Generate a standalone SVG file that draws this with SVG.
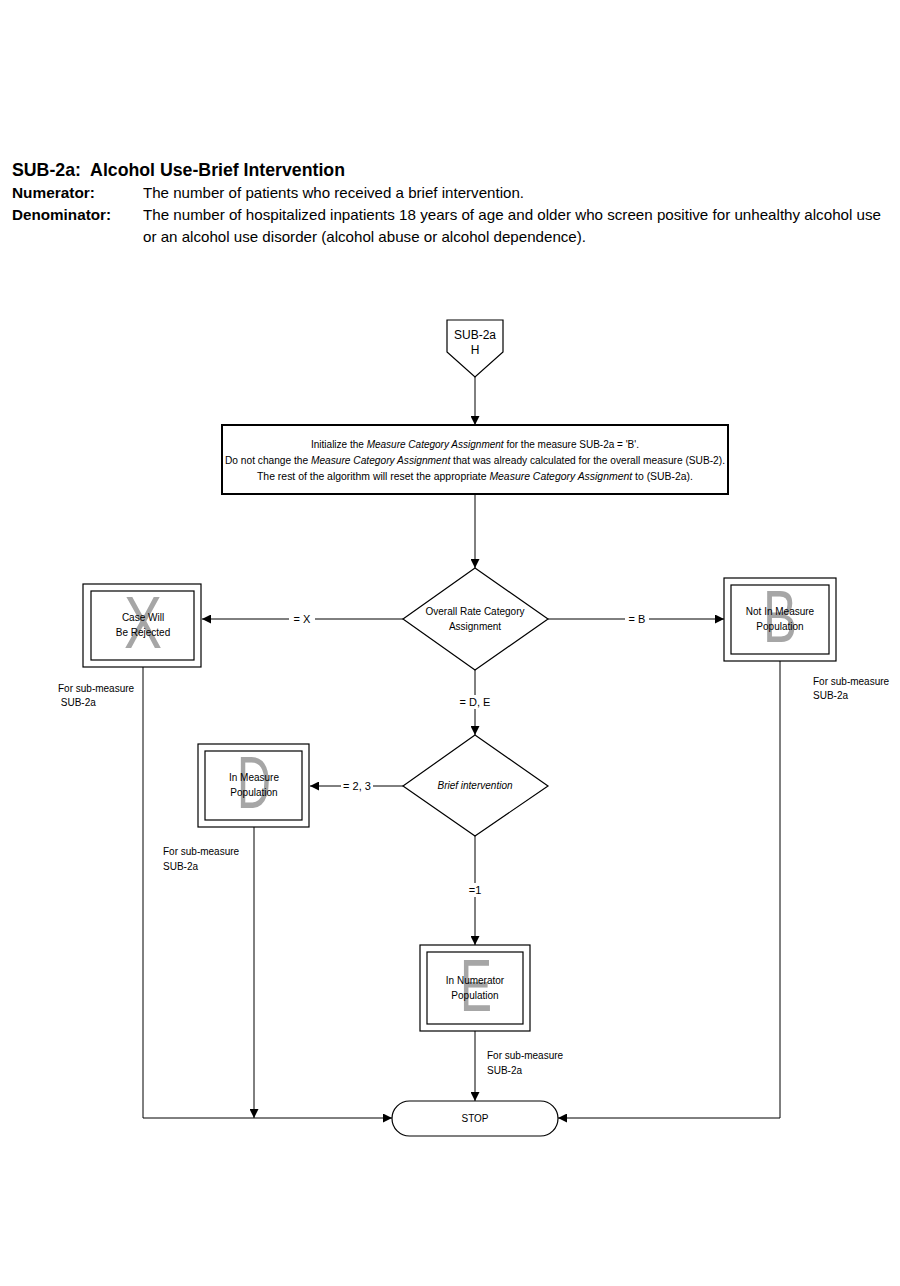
<svg xmlns="http://www.w3.org/2000/svg" width="900" height="1286" viewBox="0 0 900 1286">
<style>
text{font-family:"Liberation Sans",Arial,sans-serif;fill:#000}
.hd{font-size:15px}
.hb{font-size:15px;font-weight:bold}
.s{font-size:10px}
.c{text-anchor:middle}
.big{font-size:74px;fill:#a6a6a6;text-anchor:middle}
.ln{fill:none;stroke:#000;stroke-width:1}
.box{fill:#fff;stroke:#000;stroke-width:1.2}
.lbl{font-size:11px}
</style>
<defs>
<marker id="ah" viewBox="0 0 10 10" refX="10" refY="5" markerWidth="9" markerHeight="9" markerUnits="userSpaceOnUse" orient="auto">
<path d="M0,0 L10,5 L0,10 Z" fill="#000"/>
</marker>
</defs>
<rect width="900" height="1286" fill="#fff"/>
<g id="header">
<text x="12" y="176" style="font-size:19px;font-weight:bold" textLength="333" lengthAdjust="spacingAndGlyphs">SUB-2a:&#160; Alcohol Use-Brief Intervention</text>
<text x="12" y="198" class="hb" textLength="83" lengthAdjust="spacingAndGlyphs">Numerator:</text>
<text x="143" y="198" class="hd" textLength="381" lengthAdjust="spacingAndGlyphs">The number of patients who received a brief intervention.</text>
<text x="12" y="220" class="hb" textLength="99" lengthAdjust="spacingAndGlyphs">Denominator:</text>
<text x="143" y="220" class="hd" textLength="738" lengthAdjust="spacingAndGlyphs">The number of hospitalized inpatients 18 years of age and older who screen positive for unhealthy alcohol use</text>
<text x="143" y="242" class="hd" textLength="443" lengthAdjust="spacingAndGlyphs">or an alcohol use disorder (alcohol abuse or alcohol dependence).</text>
</g>
<g id="connectors">
<line class="ln" x1="475" y1="377" x2="475" y2="425" marker-end="url(#ah)"/>
<line class="ln" x1="475" y1="495" x2="475" y2="568" marker-end="url(#ah)"/>
<line class="ln" x1="403" y1="619" x2="202" y2="619" marker-end="url(#ah)"/>
<line class="ln" x1="548" y1="619" x2="724" y2="619" marker-end="url(#ah)"/>
<line class="ln" x1="475" y1="670" x2="475" y2="735" marker-end="url(#ah)"/>
<line class="ln" x1="403" y1="786" x2="310" y2="786" marker-end="url(#ah)"/>
<line class="ln" x1="475" y1="836" x2="475" y2="945" marker-end="url(#ah)"/>
<line class="ln" x1="475" y1="1031" x2="475" y2="1101" marker-end="url(#ah)"/>
<polyline class="ln" points="143,667 143,1118 392,1118" marker-end="url(#ah)"/>
<line class="ln" x1="254" y1="827" x2="254" y2="1118" marker-end="url(#ah)"/>
<polyline class="ln" points="780,661 780,1118 558,1118" marker-end="url(#ah)"/>
<rect x="289" y="612" width="26" height="14" fill="#fff"/>
<text x="302" y="623" class="lbl c">= X</text>
<rect x="625" y="612" width="24" height="14" fill="#fff"/>
<text x="637" y="623" class="lbl c">= B</text>
<rect x="456" y="695" width="38" height="14" fill="#fff"/>
<text x="475" y="706" class="lbl c">= D, E</text>
<rect x="341" y="779" width="32" height="14" fill="#fff"/>
<text x="357" y="790" class="lbl c">= 2, 3</text>
<rect x="467" y="883" width="16" height="14" fill="#fff"/>
<text x="475" y="894" class="lbl c">=1</text>
</g>
<g id="start">
<polygon class="box" points="447,320 503,320 503,352 475,377 447,352"/>
<text x="475" y="339" class="c" style="font-size:12px">SUB-2a</text>
<text x="475" y="354" class="c" style="font-size:12px">H</text>
</g>
<g id="init">
<rect x="222" y="425" width="506" height="69" fill="#fff" stroke="#000" stroke-width="2"/>
<text x="475" y="448" class="s c" textLength="328" lengthAdjust="spacingAndGlyphs">Initialize the <tspan font-style="italic">Measure Category Assignment</tspan> for the measure SUB-2a = 'B'.</text>
<text x="475" y="464" class="s c" textLength="500" lengthAdjust="spacingAndGlyphs">Do not change the <tspan font-style="italic">Measure Category Assignment</tspan> that was already calculated for the overall measure (SUB-2).</text>
<text x="475" y="480" class="s c" textLength="436" lengthAdjust="spacingAndGlyphs">The rest of the algorithm will reset the appropriate <tspan font-style="italic">Measure Category Assignment</tspan> to (SUB-2a).</text>
</g>
<g id="d1">
<polygon class="box" points="475,568 548,619 475,670 403,619"/>
<text x="475" y="615" class="s c">Overall Rate Category</text>
<text x="475" y="630" class="s c">Assignment</text>
</g>
<g id="rejected">
<rect class="box" x="83" y="584" width="118" height="83"/>
<rect class="box" x="91" y="591" width="103" height="69"/>
<text x="143" y="648" class="big" textLength="38" lengthAdjust="spacingAndGlyphs">X</text>
<text x="143" y="621" class="s c">Case Will</text>
<text x="143" y="636" class="s c">Be Rejected</text>
<text x="58" y="692" class="s">For sub-measure</text>
<text x="58" y="706" class="s">&#160;SUB-2a</text>
</g>
<g id="notin">
<rect class="box" x="724" y="578" width="112" height="83"/>
<rect class="box" x="731" y="585" width="98" height="69"/>
<text x="780" y="642" class="big" textLength="34" lengthAdjust="spacingAndGlyphs">B</text>
<text x="780" y="615" class="s c">Not In Measure</text>
<text x="780" y="630" class="s c">Population</text>
<text x="813" y="685" class="s">For sub-measure</text>
<text x="813" y="699" class="s">SUB-2a</text>
</g>
<g id="d2">
<polygon class="box" points="475,735 548,786 475,836 403,786"/>
<text x="475" y="789" class="s c" font-style="italic">Brief intervention</text>
</g>
<g id="inmeasure">
<rect class="box" x="198" y="744" width="111" height="83"/>
<rect class="box" x="205" y="751" width="97" height="69"/>
<text x="254" y="808" class="big" textLength="34" lengthAdjust="spacingAndGlyphs">D</text>
<text x="254" y="781" class="s c">In Measure</text>
<text x="254" y="796" class="s c">Population</text>
<text x="163" y="855" class="s">For sub-measure</text>
<text x="163" y="870" class="s">SUB-2a</text>
</g>
<g id="numerator">
<rect class="box" x="420" y="945" width="110" height="86"/>
<rect class="box" x="427" y="952" width="96" height="72"/>
<text x="476" y="1011" class="big" textLength="32" lengthAdjust="spacingAndGlyphs">E</text>
<text x="475" y="984" class="s c">In Numerator</text>
<text x="475" y="999" class="s c">Population</text>
<text x="487" y="1059" class="s">For sub-measure</text>
<text x="487" y="1074" class="s">SUB-2a</text>
</g>
<g id="stop">
<rect class="box" x="392" y="1101" width="166" height="35" rx="17.5"/>
<text x="475" y="1122" class="s c">STOP</text>
</g>
</svg>
